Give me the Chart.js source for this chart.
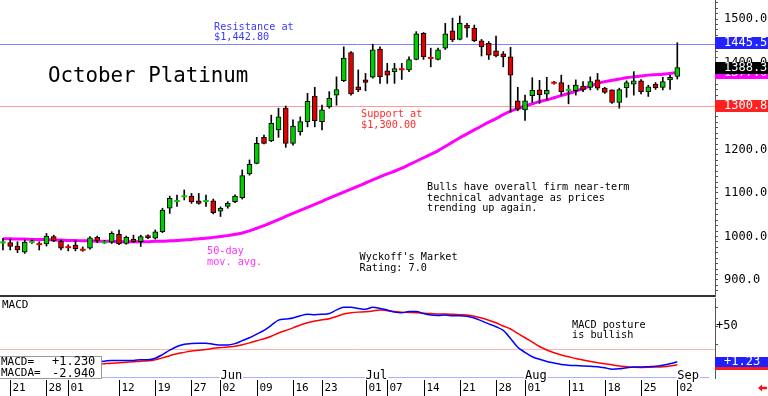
<!DOCTYPE html>
<html>
<head>
<meta charset="utf-8">
<script src="https://cdn.jsdelivr.net/npm/chart.js@4.4.1/dist/chart.umd.min.js"></script>
<style>
html, body { margin: 0; padding: 0; background: #fff; }
#wrap { position: relative; width: 768px; height: 396px; overflow: hidden; }
#price-box { position: absolute; left: 0; top: 0; width: 768px; height: 297px; }
#macd-box { position: absolute; left: 0; top: 297px; width: 768px; height: 99px; }
</style>
</head>
<body>
<div id="wrap">
	<div id="price-box"><canvas id="price-chart"></canvas></div>
	<div id="macd-box"><canvas id="macd-chart"></canvas></div>
</div>
<script>
// trading days, Apr 17 .. Sep 2
const dates = [
	'04-17',
	'04-21','04-22','04-23','04-24','04-25',
	'04-28','04-29','04-30','05-01','05-02',
	'05-05','05-06','05-07','05-08','05-09',
	'05-12','05-13','05-14','05-15','05-16',
	'05-19','05-20','05-21','05-22','05-23',
	'05-27','05-28','05-29','05-30',
	'06-02','06-03','06-04','06-05','06-06',
	'06-09','06-10','06-11','06-12','06-13',
	'06-16','06-17','06-18','06-20',
	'06-23','06-24','06-25','06-26','06-27',
	'06-30','07-01','07-02','07-03',
	'07-07','07-08','07-09','07-10','07-11',
	'07-14','07-15','07-16','07-17','07-18',
	'07-21','07-22','07-23','07-24','07-25',
	'07-28','07-29','07-30','07-31','08-01',
	'08-04','08-05','08-06','08-07','08-08',
	'08-11','08-12','08-13','08-14','08-15',
	'08-18','08-19','08-20','08-21','08-22',
	'08-25','08-26','08-27','08-28','08-29',
	'09-02'
];

const open = [
	985,986,978,964,986,984,983,1000,989,977,
	980,971,973,998,985,987,1005,984,994,988,
	1002,996,1011,1065,1080,1091,1093,1082,1080,1082,
	1058,1069,1080,1089,1144,1168,1228,1220,1245,1295,
	1214,1241,1264,1323,1264,1298,1325,1358,1423,1344,
	1360,1366,1431,1381,1379,1386,1383,1407,1467,1412,
	1407,1433,1473,1453,1486,1479,1450,1444,1427,1420,
	1413,1312,1291,1324,1337,1327,1355,1354,1335,1335,
	1346,1343,1360,1341,1337,1308,1342,1350,1358,1333,
	1350,1343,1360,1368
];
const high = [
	996,994,988,992,992,988,1007,1003,992,981,
	991,976,1000,1001,991,1011,1015,1001,1003,1003,
	1004,1015,1065,1093,1095,1107,1099,1099,1095,1086,
	1068,1080,1096,1153,1176,1228,1233,1279,1295,1300,
	1268,1275,1329,1343,1302,1333,1367,1436,1425,1383,
	1375,1442,1436,1398,1398,1398,1413,1471,1469,1433,
	1433,1490,1502,1507,1490,1486,1453,1448,1461,1425,
	1435,1343,1325,1365,1359,1366,1357,1371,1348,1360,
	1356,1367,1375,1343,1337,1341,1358,1379,1361,1348,
	1354,1366,1371,1445.5
];
const low = [
	969,969,963,961,984,969,978,988,969,967,
	967,966,971,986,984,984,981,982,986,977,
	995,994,1009,1053,1069,1084,1076,1074,1069,1052,
	1046,1065,1078,1086,1141,1167,1213,1218,1228,1205,
	1210,1233,1252,1252,1245,1295,1302,1356,1325,1333,
	1335,1364,1352,1352,1352,1361,1379,1406,1407,1390,
	1406,1430,1448,1452,1458,1448,1415,1407,1413,1390,
	1286,1289,1267,1308,1306,1314,1350,1325,1305,1325,
	1333,1337,1337,1329,1306,1295,1320,1325,1328,1322,
	1338,1337,1338,1362
];
const close = [
	988,977,969,987,989,981,1001,990,973,974,
	972,968,997,990,988,1007,983,998,988,1000,
	997,1011,1061,1088,1083,1094,1080,1076,1083,1055,
	1065,1076,1093,1140,1166,1214,1214,1260,1275,1214,
	1254,1264,1311,1266,1291,1318,1338,1410,1328,1337,
	1354,1429,1367,1371,1386,1383,1407,1466,1413,1409,
	1429,1466,1452,1490,1479,1450,1436,1417,1415,1413,
	1371,1293,1312,1336,1326,1336,1352,1333,1338,1348,
	1337,1356,1341,1331,1308,1338,1354,1358,1333,1344,
	1342,1356,1366,1388.3
];
const ma50 = [
	995,995,994,994,993,993,993,992,992,991,
	991,990,990,989,989,989,988,988,988,988,
	988,989,989,990,991,992,993,995,996,998,
	1000,1002,1005,1008,1013,1019,1025,1032,1039,1046,
	1053,1060,1067,1074,1081,1088,1095,1102,1109,1116,
	1123,1130,1137,1144,1150,1157,1165,1173,1181,1189,
	1197,1207,1217,1227,1236,1245,1254,1263,1271,1280,
	1288,1294,1300,1305,1310,1314,1319,1324,1329,1334,
	1340,1346,1352,1356,1359,1362,1365,1367,1369,1371,
	1372,1373,1375,1377
];
const macd = [
	-3,-3,-3,-3,-2,-2,-1,-1,-1,-1,
	-1,0,0,1,2,3,3,3,3,4,
	4,6,11,17,22,25,26,26.5,26.5,25,
	24,24,26,30,34,39,44,51,58,59.5,
	61,64,66,65.5,66,67,72,75.5,75.5,74,
	73,75.5,74,72,69,68,70,70,67,65,
	64.5,65,64,64,63.5,61,57,53,49,44,
	33,21,14,8,4.5,1.5,-0.5,-2.5,-3.5,-4,
	-4.5,-5,-5.5,-7,-9,-8.5,-7,-6,-6,-5.5,
	-5,-3.5,-1.5,1.23
];
const macda = [
	-4,-4,-4,-4,-3.5,-3.5,-3,-3,-3,-2.5,
	-2.5,-2.5,-2,-2,-1.5,-1,0,0.5,1.2,2,
	2.5,4,6.5,9.5,12,14,16,17,18,19.5,
	20.5,21.5,22.5,24.5,27,30,32.5,36,40.5,44,
	47.5,51.5,54.5,57,58.5,60,63,66.4,68,69,
	69.5,70.5,72,71,70,69,68.5,68.3,67.5,67,
	66.5,66.4,66,65.5,65,63.5,61,58,54.5,50,
	46,40,34,28,22,17.2,13.5,10.5,8,5.5,
	3.5,1.5,0,-1.5,-3,-4.5,-5.5,-6.4,-6.5,-6.4,
	-6,-5.5,-4.5,-2.94
];

const tick_dates = ['04-21','04-28','05-01','05-12','05-19','05-27','06-02','06-09','06-16','06-23',
	'07-01','07-07','07-14','07-21','07-28','08-01','08-11','08-18','08-25','09-02'];
const month_names = ['Jun', 'Jul', 'Aug', 'Sep'];
const month_dates = ['06-02', '07-01', '08-01', '09-02'];

const resistance = 1442.80;
const support = 1300.00;
const last_high = 1445.5;
const last_close = 1388.3;
const support_mark = 1300.8;
const macd_ref = 18;

const mono = '"DejaVu Sans Mono"';
Chart.defaults.font.family = mono;
Chart.defaults.color = '#000';

const x_min = -0.41, x_max = 98.2;

function hline(ctx, x0, x1, py, color) {
	ctx.save();
	ctx.strokeStyle = color;
	ctx.lineWidth = 1;
	ctx.beginPath();
	const yy = Math.round(py) + 0.5;
	ctx.moveTo(x0, yy);
	ctx.lineTo(x1, yy);
	ctx.stroke();
	ctx.restore();
}

function text_lines(ctx, lines, x, y, gap, color, font) {
	ctx.save();
	ctx.fillStyle = color;
	ctx.font = font;
	ctx.textBaseline = 'middle';
	ctx.textAlign = 'left';
	lines.forEach((t, i) => ctx.fillText(t, x, y + i * gap));
	ctx.restore();
}

function axis_tag(chart, py, h, text, bg) {
	const ctx = chart.ctx;
	const left = chart.chartArea.right;
	ctx.save();
	ctx.fillStyle = bg;
	ctx.fillRect(left, Math.round(py - h / 2), chart.width - left, h);
	ctx.fillStyle = '#fff';
	ctx.font = '12px ' + mono;
	ctx.textBaseline = 'middle';
	ctx.fillText(text, left + 9, py + 0.5);
	ctx.restore();
}

// keep the plot area flush with the canvas edges
function right_axis_fit(s) {
	s.width = 53;
	s.paddingTop = 0;
	s.paddingBottom = 0;
}

const price_notes = {
	id: 'price_notes',
	beforeDatasetsDraw(chart) {
		const {ctx, chartArea: a, scales: {y}} = chart;
		hline(ctx, a.left, a.right, y.getPixelForValue(resistance), '#8080ff');
		hline(ctx, a.left, a.right, y.getPixelForValue(support), '#ff9a9a');
	},
	afterDraw(chart) {
		const {ctx, chartArea: a, scales: {y}} = chart;
		const f10 = '10.2px ' + mono;
		text_lines(ctx, ['Resistance at', '$1,442.80'], 214, 27.5, 10, '#3a3aff', f10);
		text_lines(ctx, ['October Platinum'], 48, 77, 0, '#000', '20.8px ' + mono);
		text_lines(ctx, ['Support at', '$1,300.00'], 361, 114.5, 10.5, '#ff2a2a', f10);
		text_lines(ctx, ['Bulls have overall firm near-term', 'technical advantage as prices', 'trending up again.'],
			427, 187.5, 10.5, '#000', f10);
		text_lines(ctx, ['50-day', 'mov. avg.'], 207, 251, 11, '#ff33ff', f10);
		text_lines(ctx, ["Wyckoff's Market", 'Rating: 7.0'], 359.5, 257.5, 10.5, '#000', f10);

		// panel separator
		ctx.save();
		ctx.fillStyle = '#333';
		ctx.fillRect(0, a.bottom - 1, a.right, 2);
		ctx.restore();

		axis_tag(chart, y.getPixelForValue(ma50[ma50.length - 1]), 12, ma50[ma50.length - 1].toFixed(1), '#ff00ff');
		axis_tag(chart, y.getPixelForValue(last_close), 12, last_close.toFixed(1), '#000');
		axis_tag(chart, y.getPixelForValue(last_high), 12, last_high.toFixed(1), '#2323ff');
		axis_tag(chart, y.getPixelForValue(support_mark), 12, support_mark.toFixed(1), '#ff2020');
	}
};

const macd_notes = {
	id: 'macd_notes',
	beforeDatasetsDraw(chart) {
		const {ctx, chartArea: a, scales: {y}} = chart;
		hline(ctx, a.left, a.right, y.getPixelForValue(macd_ref), '#ffb4b4');
		hline(ctx, a.left, a.right - 6, a.bottom - 1, '#a8b0ff');
	},
	afterDraw(chart) {
		const {ctx, chartArea: a, scales: {x, y}} = chart;
		const f10 = '10.2px ' + mono;
		text_lines(ctx, ['MACD'], 2, 8, 0, '#000', '11px ' + mono);
		text_lines(ctx, ['MACD posture', 'is bullish'], 572, 28, 10, '#000', f10);

		// legend box
		ctx.save();
		ctx.fillStyle = '#fff';
		ctx.fillRect(0, 59, 102, a.bottom - 59);
		ctx.strokeStyle = '#999';
		ctx.lineWidth = 1;
		ctx.strokeRect(-0.5, 59.5, 102, a.bottom - 59);
		ctx.restore();
		text_lines(ctx, ['MACD=', 'MACDA='], 1, 65, 11.5, '#000', '11px ' + mono);
		text_lines(ctx, ['+' + macd[macd.length - 1].toFixed(3), macda[macda.length - 1].toFixed(3)],
			52, 65, 11.5, '#000', '12px ' + mono);

		// month names on the bottom rule
		ctx.save();
		ctx.font = '12px ' + mono;
		ctx.textBaseline = 'middle';
		month_names.forEach((m, i) => {
			const px = x.getPixelForValue(dates.indexOf(month_dates[i]));
			const w = ctx.measureText(m).width;
			ctx.fillStyle = '#fff';
			ctx.fillRect(px - 1, a.bottom - 7, w + 2, 8);
			ctx.fillStyle = '#000';
			ctx.fillText(m, px, a.bottom - 2);
		});

		// day ticks
		ctx.font = '11px ' + mono;
		ctx.strokeStyle = '#000';
		ctx.lineWidth = 1;
		tick_dates.forEach(d => {
			const px = Math.round(x.getPixelForValue(dates.indexOf(d))) + 0.5;
			ctx.beginPath();
			ctx.moveTo(px, a.bottom + 2);
			ctx.lineTo(px, chart.height);
			ctx.stroke();
			ctx.fillStyle = '#000';
			ctx.fillText(d.slice(3), px + 2, a.bottom + 10.5);
		});

		// red arrow bottom right
		ctx.fillStyle = '#ff1010';
		ctx.beginPath();
		ctx.moveTo(758, 91);
		ctx.lineTo(762, 87.5);
		ctx.lineTo(762, 89.8);
		ctx.lineTo(767, 89.8);
		ctx.lineTo(767, 92.2);
		ctx.lineTo(762, 92.2);
		ctx.lineTo(762, 94.5);
		ctx.closePath();
		ctx.fill();
		ctx.restore();

		axis_tag(chart, y.getPixelForValue(macda[macda.length - 1]), 10, '', '#ff1a1a');
		axis_tag(chart, y.getPixelForValue(macd[macd.length - 1]), 10, '+' + macd[macd.length - 1].toFixed(2), '#2020ff');
	}
};

const bodies = dates.map((d, i) => ({x: i, y: [open[i], close[i]]}));
const wicks = dates.map((d, i) => ({x: i, y: [low[i], high[i]]}));
const ma_pts = ma50.map((v, i) => ({x: i, y: v}));

const price_chart = new Chart(document.getElementById('price-chart'), {
	type: 'bar',
	data: {
		datasets: [{
			data: bodies,
			order: 0,
			grouped: false,
			barThickness: 5,
			backgroundColor: c => (c.raw && c.raw.y[1] < c.raw.y[0]) ? '#e00000' : '#00cc00',
			borderColor: '#000',
			borderWidth: c => (c.raw && Math.abs(c.raw.y[1] - c.raw.y[0]) < 4) ? 0 : 1,
			borderSkipped: false
		}, {
			data: wicks,
			order: 1,
			grouped: false,
			barThickness: 1,
			backgroundColor: '#000',
			borderWidth: 0
		}, {
			type: 'line',
			data: ma_pts,
			order: 2,
			borderColor: '#ff00ff',
			borderWidth: 3,
			pointRadius: 0,
			tension: 0.3
		}]
	},
	options: {
		responsive: true,
		maintainAspectRatio: false,
		animation: false,
		events: [],
		layout: {padding: {top: 0, bottom: 1, left: 0, right: 0}},
		plugins: {legend: {display: false}, tooltip: {enabled: false}},
		scales: {
			x: {type: 'linear', min: x_min, max: x_max, offset: false, display: false},
			y: {
				position: 'right',
				min: 863.2,
				max: 1543.7,
				afterFit: right_axis_fit,
				grid: {drawOnChartArea: false, tickLength: 3, color: '#555'},
				border: {color: '#555'},
				ticks: {
					stepSize: 12.5,
					autoSkip: false,
					includeBounds: false,
					padding: 6,
					font: {size: 12},
					callback: v => (v % 100 === 0 ? v.toFixed(1) : '')
				}
			}
		}
	},
	plugins: [price_notes]
});

const macd_chart = new Chart(document.getElementById('macd-chart'), {
	type: 'line',
	data: {
		datasets: [{
			data: macd.map((v, i) => ({x: i, y: v})),
			borderColor: '#0000ff',
			borderWidth: 1.5,
			pointRadius: 0,
			cubicInterpolationMode: 'monotone'
		}, {
			data: macda.map((v, i) => ({x: i, y: v})),
			borderColor: '#ff0000',
			borderWidth: 1.5,
			pointRadius: 0,
			cubicInterpolationMode: 'monotone'
		}]
	},
	options: {
		responsive: true,
		maintainAspectRatio: false,
		animation: false,
		events: [],
		layout: {padding: {top: 1, bottom: 18, left: 0, right: 0}},
		plugins: {legend: {display: false}, tooltip: {enabled: false}},
		scales: {
			x: {type: 'linear', min: x_min, max: x_max, display: false},
			y: {
				position: 'right',
				min: -21,
				max: 88.3,
				afterFit: right_axis_fit,
				grid: {drawOnChartArea: false, tickLength: 3, color: '#555'},
				border: {color: '#555'},
				ticks: {
					stepSize: 25,
					autoSkip: false,
					includeBounds: false,
					padding: -2,
					font: {size: 12},
					callback: v => (v === 50 ? '+50' : '')
				}
			}
		}
	},
	plugins: [macd_notes]
});
</script>
</body>
</html>
